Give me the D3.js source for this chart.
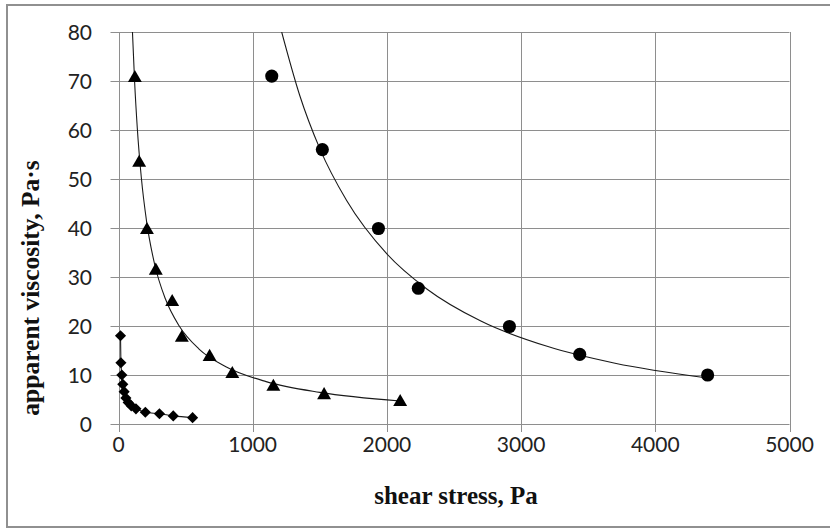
<!DOCTYPE html>
<html>
<head>
<meta charset="utf-8">
<script src="https://cdnjs.cloudflare.com/ajax/libs/d3/7.8.5/d3.min.js"></script>
<style>
  html, body { margin: 0; padding: 0; background: #fff; }
  svg { display: block; }
</style>
</head>
<body>
<svg id="chart" width="830" height="531"></svg>
<script>
// Measured series: shear stress (Pa) vs apparent viscosity (Pa·s)
const diamondX = [15, 18, 25, 32, 42, 55, 72, 95, 130, 200, 305, 408, 552];
const diamondY = [18.0, 12.5, 10.0, 8.1, 6.6, 5.3, 4.4, 3.7, 3.1, 2.4, 2.1, 1.65, 1.3];

const triangleX = [122, 154, 212, 278, 400, 472, 679, 848, 1154, 1532, 2099];
const triangleY = [70.8, 53.5, 39.8, 31.5, 25.1, 17.8, 13.9, 10.4, 7.8, 6.1, 4.7];

const circleX = [1142, 1519, 1937, 2234, 2913, 3437, 4390];
const circleY = [71.0, 56.0, 39.9, 27.7, 19.9, 14.2, 10.0];

// Trend curves drawn through the triangle and circle series
const triangleFitX = [104, 120, 140, 170, 210, 270, 350, 450, 600, 800, 1100, 1500, 2099];
const triangleFitY = [80, 69.9, 60.4, 50.3, 41.2, 32.5, 25.5, 20.1, 15.3, 11.7, 8.65, 6.46, 4.7];

const circleFitX = [1216, 1350, 1500, 1700, 2000, 2300, 2700, 3200, 3700, 4390];
const circleFitY = [80, 67.1, 56.2, 45.6, 34.7, 27.5, 21.0, 15.8, 12.4, 9.4];

// Axis ticks and titles
const xTicks = [0, 1000, 2000, 3000, 4000, 5000];
const yTicks = [0, 10, 20, 30, 40, 50, 60, 70, 80];
const xTitle = "shear stress, Pa";
const yTitle = "apparent viscosity, Pa·s";

const zip = (xs, ys) => xs.map((x, i) => ({ x, y: ys[i] }));

const svg = d3.select("#chart");

// chart area frame
svg.append("rect")
  .attr("x", 7).attr("y", 5)
  .attr("width", 840).attr("height", 522)
  .attr("fill", "#fff")
  .attr("stroke", "#909090")
  .attr("stroke-width", 2);

const x = d3.scaleLinear().domain([0, 5000]).range([118.5, 789.5]);
const y = d3.scaleLinear().domain([0, 80]).range([424, 32]);

const gridColor = "#8e8e8e";
const labelFont = "Lato, 'Open Sans', sans-serif";
const titleFont = "'Liberation Serif', 'Times New Roman', serif";

// horizontal gridlines with left tick marks
svg.append("g").selectAll("line").data(yTicks).join("line")
  .attr("x1", x(0) - 8).attr("x2", x(5000))
  .attr("y1", d => Math.round(y(d)) + 0.5).attr("y2", d => Math.round(y(d)) + 0.5)
  .attr("stroke", gridColor).attr("stroke-width", 1);

// vertical gridlines with bottom tick marks
svg.append("g").selectAll("line").data(xTicks).join("line")
  .attr("x1", d => Math.round(x(d)) + 0.5).attr("x2", d => Math.round(x(d)) + 0.5)
  .attr("y1", y(80)).attr("y2", y(0) + 8)
  .attr("stroke", gridColor).attr("stroke-width", 1);

// tick labels
svg.append("g").selectAll("text").data(yTicks).join("text")
  .attr("x", 92).attr("y", d => y(d))
  .attr("dy", "0.36em")
  .attr("text-anchor", "end")
  .attr("font-family", labelFont).attr("font-size", 21)
  .attr("fill", "#222")
  .text(d => d);

svg.append("g").selectAll("text").data(xTicks).join("text")
  .attr("x", d => x(d)).attr("y", 452)
  .attr("text-anchor", "middle")
  .attr("font-family", labelFont).attr("font-size", 21)
  .attr("fill", "#222")
  .text(d => d);

// axis titles
svg.append("text")
  .attr("x", 456).attr("y", 504)
  .attr("text-anchor", "middle")
  .attr("font-family", titleFont).attr("font-weight", "bold").attr("font-size", 25)
  .attr("fill", "#111")
  .text(xTitle);

svg.append("text")
  .attr("transform", "translate(39,288) rotate(-90)")
  .attr("text-anchor", "middle")
  .attr("font-family", titleFont).attr("font-weight", "bold").attr("font-size", 25.5)
  .attr("fill", "#111")
  .text(yTitle);

// clip curves to the plot area
svg.append("clipPath").attr("id", "plot-clip")
  .append("rect")
  .attr("x", x(0)).attr("y", y(80))
  .attr("width", x(5000) - x(0)).attr("height", y(0) - y(80));

const line = d3.line().x(d => x(d.x)).y(d => y(d.y)).curve(d3.curveMonotoneX);

const curves = svg.append("g").attr("clip-path", "url(#plot-clip)");
[zip(diamondX, diamondY), zip(triangleFitX, triangleFitY), zip(circleFitX, circleFitY)]
  .forEach(pts => {
    curves.append("path")
      .attr("d", line(pts))
      .attr("fill", "none")
      .attr("stroke", "#1a1a1a")
      .attr("stroke-width", 1.1);
  });

// markers
const diamond = d3.symbol().type(d3.symbolSquare).size(62);
svg.append("g").selectAll("path").data(zip(diamondX, diamondY)).join("path")
  .attr("d", diamond)
  .attr("transform", d => `translate(${x(d.x)},${y(d.y)}) rotate(45)`)
  .attr("fill", "#000");

const tri = d3.symbol().type(d3.symbolTriangle).size(84);
svg.append("g").selectAll("path").data(zip(triangleX, triangleY)).join("path")
  .attr("d", tri)
  .attr("transform", d => `translate(${x(d.x)},${y(d.y) + 1})`)
  .attr("fill", "#000");

const circ = d3.symbol().type(d3.symbolCircle).size(135);
svg.append("g").selectAll("path").data(zip(circleX, circleY)).join("path")
  .attr("d", circ)
  .attr("transform", d => `translate(${x(d.x)},${y(d.y)})`)
  .attr("fill", "#000");
</script>
</body>
</html>
